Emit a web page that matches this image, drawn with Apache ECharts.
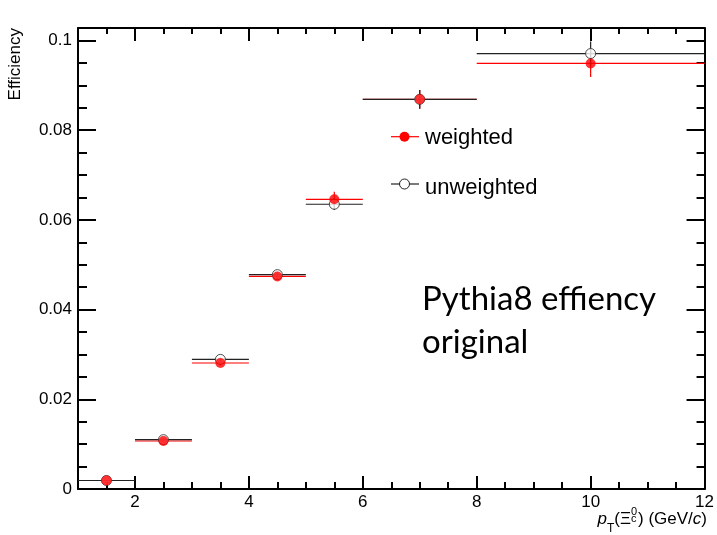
<!DOCTYPE html>
<html>
<head>
<meta charset="utf-8">
<script src="https://cdn.jsdelivr.net/npm/echarts@6/dist/echarts.min.js"></script>
<style>
  html, body { margin: 0; padding: 0; background: #fff; }
  #chart { width: 717px; height: 535px; }
</style>
</head>
<body>
<div id="chart"></div>
<script>
// pT bins in GeV/c
const binLow    = [1, 2, 3, 4, 5, 6, 8];
const binHigh   = [2, 3, 4, 5, 6, 8, 12];
const binCenter = [1.5, 2.5, 3.5, 4.5, 5.5, 7, 10];

// efficiency per bin
const weighted      = [0.0019, 0.0107, 0.0281, 0.0474, 0.0646, 0.0869, 0.0949];
const weightedErr   = [0.0001, 0.0003, 0.0005, 0.0008, 0.0017, 0.0021, 0.0030];
const unweighted    = [0.0019, 0.0110, 0.0289, 0.0478, 0.0635, 0.0869, 0.0971];
const unweightedErr = [0.0001, 0.0003, 0.0005, 0.0007, 0.0013, 0.0021, 0.0027];

const seriesNames = ['weighted', 'unweighted'];

// axis ticks
const xMajorTicks = [2, 4, 6, 8, 10, 12];
const xTickLabels = ['2', '4', '6', '8', '10', '12'];
const xMinorTicks = [1.5, 2.5, 3, 3.5, 4.5, 5, 5.5, 6.5, 7, 7.5, 8.5, 9, 9.5, 10.5, 11, 11.5];
const yMajorTicks = [0, 0.02, 0.04, 0.06, 0.08, 0.1];
const yTickLabels = ['0', '0.02', '0.04', '0.06', '0.08', '0.1'];
const yMinorTicks = [0.005, 0.01, 0.015, 0.025, 0.03, 0.035, 0.045, 0.05, 0.055,
                     0.065, 0.07, 0.075, 0.085, 0.09, 0.095];

const X_MIN = 1, X_MAX = 12, Y_MIN = 0, Y_MAX = 0.1028;
const FONT = '"Liberation Sans", Arial, Helvetica, sans-serif';
const RED = '#ff0000', BLACK = '#000000', DARK = '#222222';

const chart = echarts.init(document.getElementById('chart'), null, { renderer: 'canvas' });

// one axis of the frame: major or minor ticks pointing into the plot
function frameAxis(dim, position, ticks, tickLen, withLine, labels, values) {
  const ax = {
    type: 'value',
    position: position,
    min: dim === 'x' ? X_MIN : Y_MIN,
    max: dim === 'x' ? X_MAX : Y_MAX,
    silent: true,
    splitLine: { show: false },
    axisLine: { show: withLine, onZero: false, lineStyle: { color: BLACK, width: 2 } },
    axisTick: {
      show: true, inside: true, length: tickLen, customValues: ticks,
      lineStyle: { color: BLACK, width: 2 }
    },
    axisLabel: { show: false }
  };
  if (labels) {
    ax.axisLabel = {
      show: true,
      customValues: values,
      margin: dim === 'x' ? 5 : 6,
      color: BLACK,
      fontFamily: FONT,
      fontSize: 17,
      formatter: function (v) {
        const i = values.findIndex(t => Math.abs(t - v) < 1e-9);
        return i >= 0 ? labels[i] : '';
      }
    };
  }
  return ax;
}

// horizontal bin-width bar plus vertical uncertainty bar
function errorBars(name, values, errs, color, z) {
  return {
    type: 'custom',
    name: name,
    xAxisIndex: 0,
    yAxisIndex: 0,
    z: z,
    silent: true,
    clip: false,
    data: values.map((v, i) => [binLow[i], binHigh[i], v, errs[i], binCenter[i]]),
    encode: { x: [0, 1], y: 2 },
    renderItem: function (params, api) {
      const y = api.value(2), e = api.value(3), xc = api.value(4);
      const a = api.coord([api.value(0), y]);
      const b = api.coord([api.value(1), y]);
      const t = api.coord([xc, y + e]);
      const d = api.coord([xc, y - e]);
      const style = { stroke: color, lineWidth: 1.2 };
      return {
        type: 'group',
        children: [
          { type: 'line', shape: { x1: a[0], y1: a[1], x2: b[0], y2: b[1] }, style: style },
          { type: 'line', shape: { x1: t[0], y1: t[1], x2: d[0], y2: d[1] }, style: style }
        ]
      };
    }
  };
}

// x-axis title laid out piece by piece: p_T(Ξ_c^0) (GeV/c)
const measureCtx = document.createElement('canvas').getContext('2d');
function textWidth(str, size, italic) {
  measureCtx.font = (italic ? 'italic ' : '') + size + 'px ' + FONT;
  return measureCtx.measureText(str).width;
}
function baselineText(str, x, baseline, size, italic) {
  return {
    type: 'text', x: x, y: baseline - 0.35 * size, silent: true,
    style: {
      text: str, fill: BLACK, fontFamily: FONT, fontSize: size,
      fontStyle: italic ? 'italic' : 'normal', align: 'left', verticalAlign: 'middle'
    }
  };
}
function xTitle(rightEdge, baseline) {
  const pieces = [
    { s: 'p', size: 17, it: true, dy: 0 },
    { s: 'T', size: 12, it: false, dy: 8 },
    { s: '(\u039E', size: 17, it: false, dy: 0 },
    { stack: [{ s: '0', size: 11, dy: -9 }, { s: 'c', size: 11, dy: -2 }] },
    { s: ') (GeV/', size: 17, it: false, dy: 0 },
    { s: 'c', size: 17, it: true, dy: 0 },
    { s: ')', size: 17, it: false, dy: 0 }
  ];
  const widths = pieces.map(p => p.stack
    ? Math.max(...p.stack.map(q => textWidth(q.s, q.size, false))) + 1
    : textWidth(p.s, p.size, p.it));
  let x = rightEdge - widths.reduce((a, b) => a + b, 0);
  const out = [];
  pieces.forEach((p, i) => {
    if (p.stack) {
      p.stack.forEach(q => out.push(baselineText(q.s, x, baseline + q.dy, q.size, false)));
    } else {
      out.push(baselineText(p.s, x, baseline + p.dy, p.size, p.it));
    }
    x += widths[i];
  });
  return out;
}

// legend entries: line with marker, then the series name
function legendEntry(y, textY, name, lineColor, fill, stroke) {
  return [
    { type: 'line', silent: true, shape: { x1: 391, y1: y, x2: 419, y2: y },
      style: { stroke: lineColor, lineWidth: 1.2 } },
    { type: 'circle', silent: true, shape: { cx: 404.5, cy: y, r: 5 },
      style: { fill: fill, stroke: stroke, lineWidth: stroke ? 1 : 0 } },
    { type: 'text', silent: true, x: 425, y: textY,
      style: { text: name, fill: BLACK, fontFamily: FONT, fontSize: 22,
               align: 'left', verticalAlign: 'middle' } }
  ];
}

const option = {
  animation: false,
  backgroundColor: '#ffffff',
  grid: { left: 78, right: 11, top: 28, bottom: 46, containLabel: false },
  xAxis: [
    frameAxis('x', 'bottom', xMajorTicks, 13, true, xTickLabels, xMajorTicks),
    frameAxis('x', 'bottom', xMinorTicks, 7, false),
    frameAxis('x', 'top', xMajorTicks, 13, true),
    frameAxis('x', 'top', xMinorTicks, 6, false)
  ],
  yAxis: [
    frameAxis('y', 'left', yMajorTicks, 18, true, yTickLabels, yMajorTicks),
    frameAxis('y', 'left', yMinorTicks, 9, false),
    frameAxis('y', 'right', yMajorTicks, 18, true),
    frameAxis('y', 'right', yMinorTicks, 8, false)
  ],
  series: [
    errorBars(seriesNames[0], weighted, weightedErr, RED, 2),
    errorBars(seriesNames[1], unweighted, unweightedErr, DARK, 3),
    {
      type: 'scatter', name: seriesNames[1], xAxisIndex: 0, yAxisIndex: 0, z: 4,
      silent: true,
      data: binCenter.map((x, i) => [x, unweighted[i]]),
      symbol: 'circle', symbolSize: 10,
      itemStyle: { color: '#ffffff', borderColor: DARK, borderWidth: 1 }
    },
    {
      type: 'scatter', name: seriesNames[0], xAxisIndex: 0, yAxisIndex: 0, z: 5,
      silent: true,
      data: binCenter.map((x, i) => [x, weighted[i]]),
      symbol: 'circle', symbolSize: 10,
      itemStyle: { color: RED }
    }
  ],
  graphic: [
    // y-axis title, right-aligned to the top of the frame
    { type: 'text', silent: true, x: 15.5, y: 28, rotation: Math.PI / 2,
      style: { text: 'Efficiency', fill: BLACK, fontFamily: FONT, fontSize: 17,
               align: 'right', verticalAlign: 'middle' } },
    ...xTitle(707, 525),
    ...legendEntry(136.7, 137.5, seriesNames[0], RED, RED, null),
    ...legendEntry(184, 187.5, seriesNames[1], DARK, '#ffffff', DARK),
    { type: 'text', silent: true, x: 422, y: 299,
      style: { text: 'Pythia8 effiency', fill: BLACK, fontFamily: 'Lato, "Open Sans", sans-serif',
               fontSize: 33, align: 'left', verticalAlign: 'middle' } },
    { type: 'text', silent: true, x: 422, y: 342,
      style: { text: 'original', fill: BLACK, fontFamily: 'Lato, "Open Sans", sans-serif',
               fontSize: 33, align: 'left', verticalAlign: 'middle' } }
  ]
};

chart.setOption(option);
</script>
</body>
</html>
